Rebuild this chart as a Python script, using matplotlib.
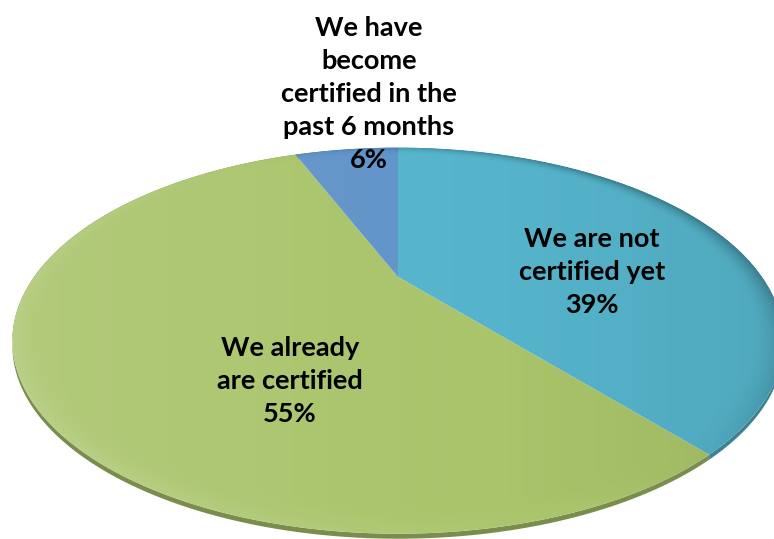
import numpy as np
import matplotlib.pyplot as plt
from matplotlib.patches import Polygon
import matplotlib.colors as mcolors

# Certification status survey
labels = ['We are not\ncertified yet',
          'We already\nare certified',
          'We have\nbecome\ncertified in the\npast 6 months']
shares = [39, 55, 6]
colors = ['#55b4cb', '#a9c46b', '#5f93c8']

# label anchor points (pixels)
label_xy = [(592, 272), (290, 381), (369, 94)]

W, H = 774, 539
cx, cy = 398, 277     # pie centre in pixels
sx, sy = 364, 172     # horizontal / vertical scale
k = 0.33              # perspective strength
depth = 5             # rim thickness


def project(x, y):
    d = 1 + k * y
    return cx + sx * x / d, cy - sy * y / d


fig = plt.figure(figsize=(W / 100, H / 100), dpi=100)

# let pie() work out the wedge angles, then draw them tilted on a pixel axes
pie_ax = fig.add_axes([0, 0, 0.01, 0.01])
wedges, _ = pie_ax.pie(shares, startangle=90, counterclock=False, radius=1)
angles = [(w.theta1, w.theta2, w.r) for w in wedges]
pie_ax.remove()

ax = fig.add_axes([0, 0, 1, 1])
ax.set_xlim(0, W)
ax.set_ylim(H, 0)
ax.axis('off')

tops = []
for (t1, t2, r), col in zip(angles, colors):
    t = np.radians(np.linspace(t1, t2, 200))
    px, py = project(r * np.cos(t), r * np.sin(t))
    # side of the disc
    dark = np.array(mcolors.to_rgb(col)) * 0.72
    side = np.column_stack([np.r_[px, px[::-1]], np.r_[py, py[::-1] + depth]])
    ax.add_patch(Polygon(side, closed=True, facecolor=dark, edgecolor='none'))
    top = np.column_stack([np.r_[cx, px], np.r_[cy, py]])
    tops.append((top, col))

for top, col in tops:
    ax.add_patch(Polygon(top, closed=True, facecolor=col, edgecolor='none'))

# soft bevel / lighting overlay
gx, gy = np.meshgrid(np.arange(W) + 0.5, np.arange(H) + 0.5)
v = (cy - gy) / sy
Y = v / (1 - k * v)
X = (gx - cx) / sx * (1 + k * Y)
rr = np.hypot(X, Y)
ang = np.arctan2(Y, X)
bevel = np.clip((rr - 0.92) / 0.08, 0, 1) ** 2
light = np.cos(ang - np.radians(215))          # lit from lower left
shade = 0.08 * (gx - cx) / sx - 0.02
shade += 0.30 * bevel * np.clip(-light, 0, 1)
shade += -0.10 * bevel * np.clip(light, 0, 1)
img = np.zeros((H, W, 4))
img[..., :3] = np.where(shade[..., None] < 0, 1.0, 0.0)
img[..., 3] = np.clip(np.abs(shade), 0, 0.4) * (rr <= 1.0)
ov = ax.imshow(img, extent=(0, W, H, 0), interpolation='bilinear', zorder=2)
outline = np.vstack([t[0][1:] for t in tops])
clip = Polygon(outline, closed=True, transform=ax.transData)
ov.set_clip_path(clip)

for lab, val, (x, y) in zip(labels, shares, label_xy):
    ax.text(x, y, f'{lab}\n{val}%', ha='center', va='center', ma='center',
            fontsize=19.5, fontweight='bold', linespacing=1.45,
            family=['Lato', 'DejaVu Sans'], color='black', zorder=3)

fig.savefig('out.png', dpi=100)
